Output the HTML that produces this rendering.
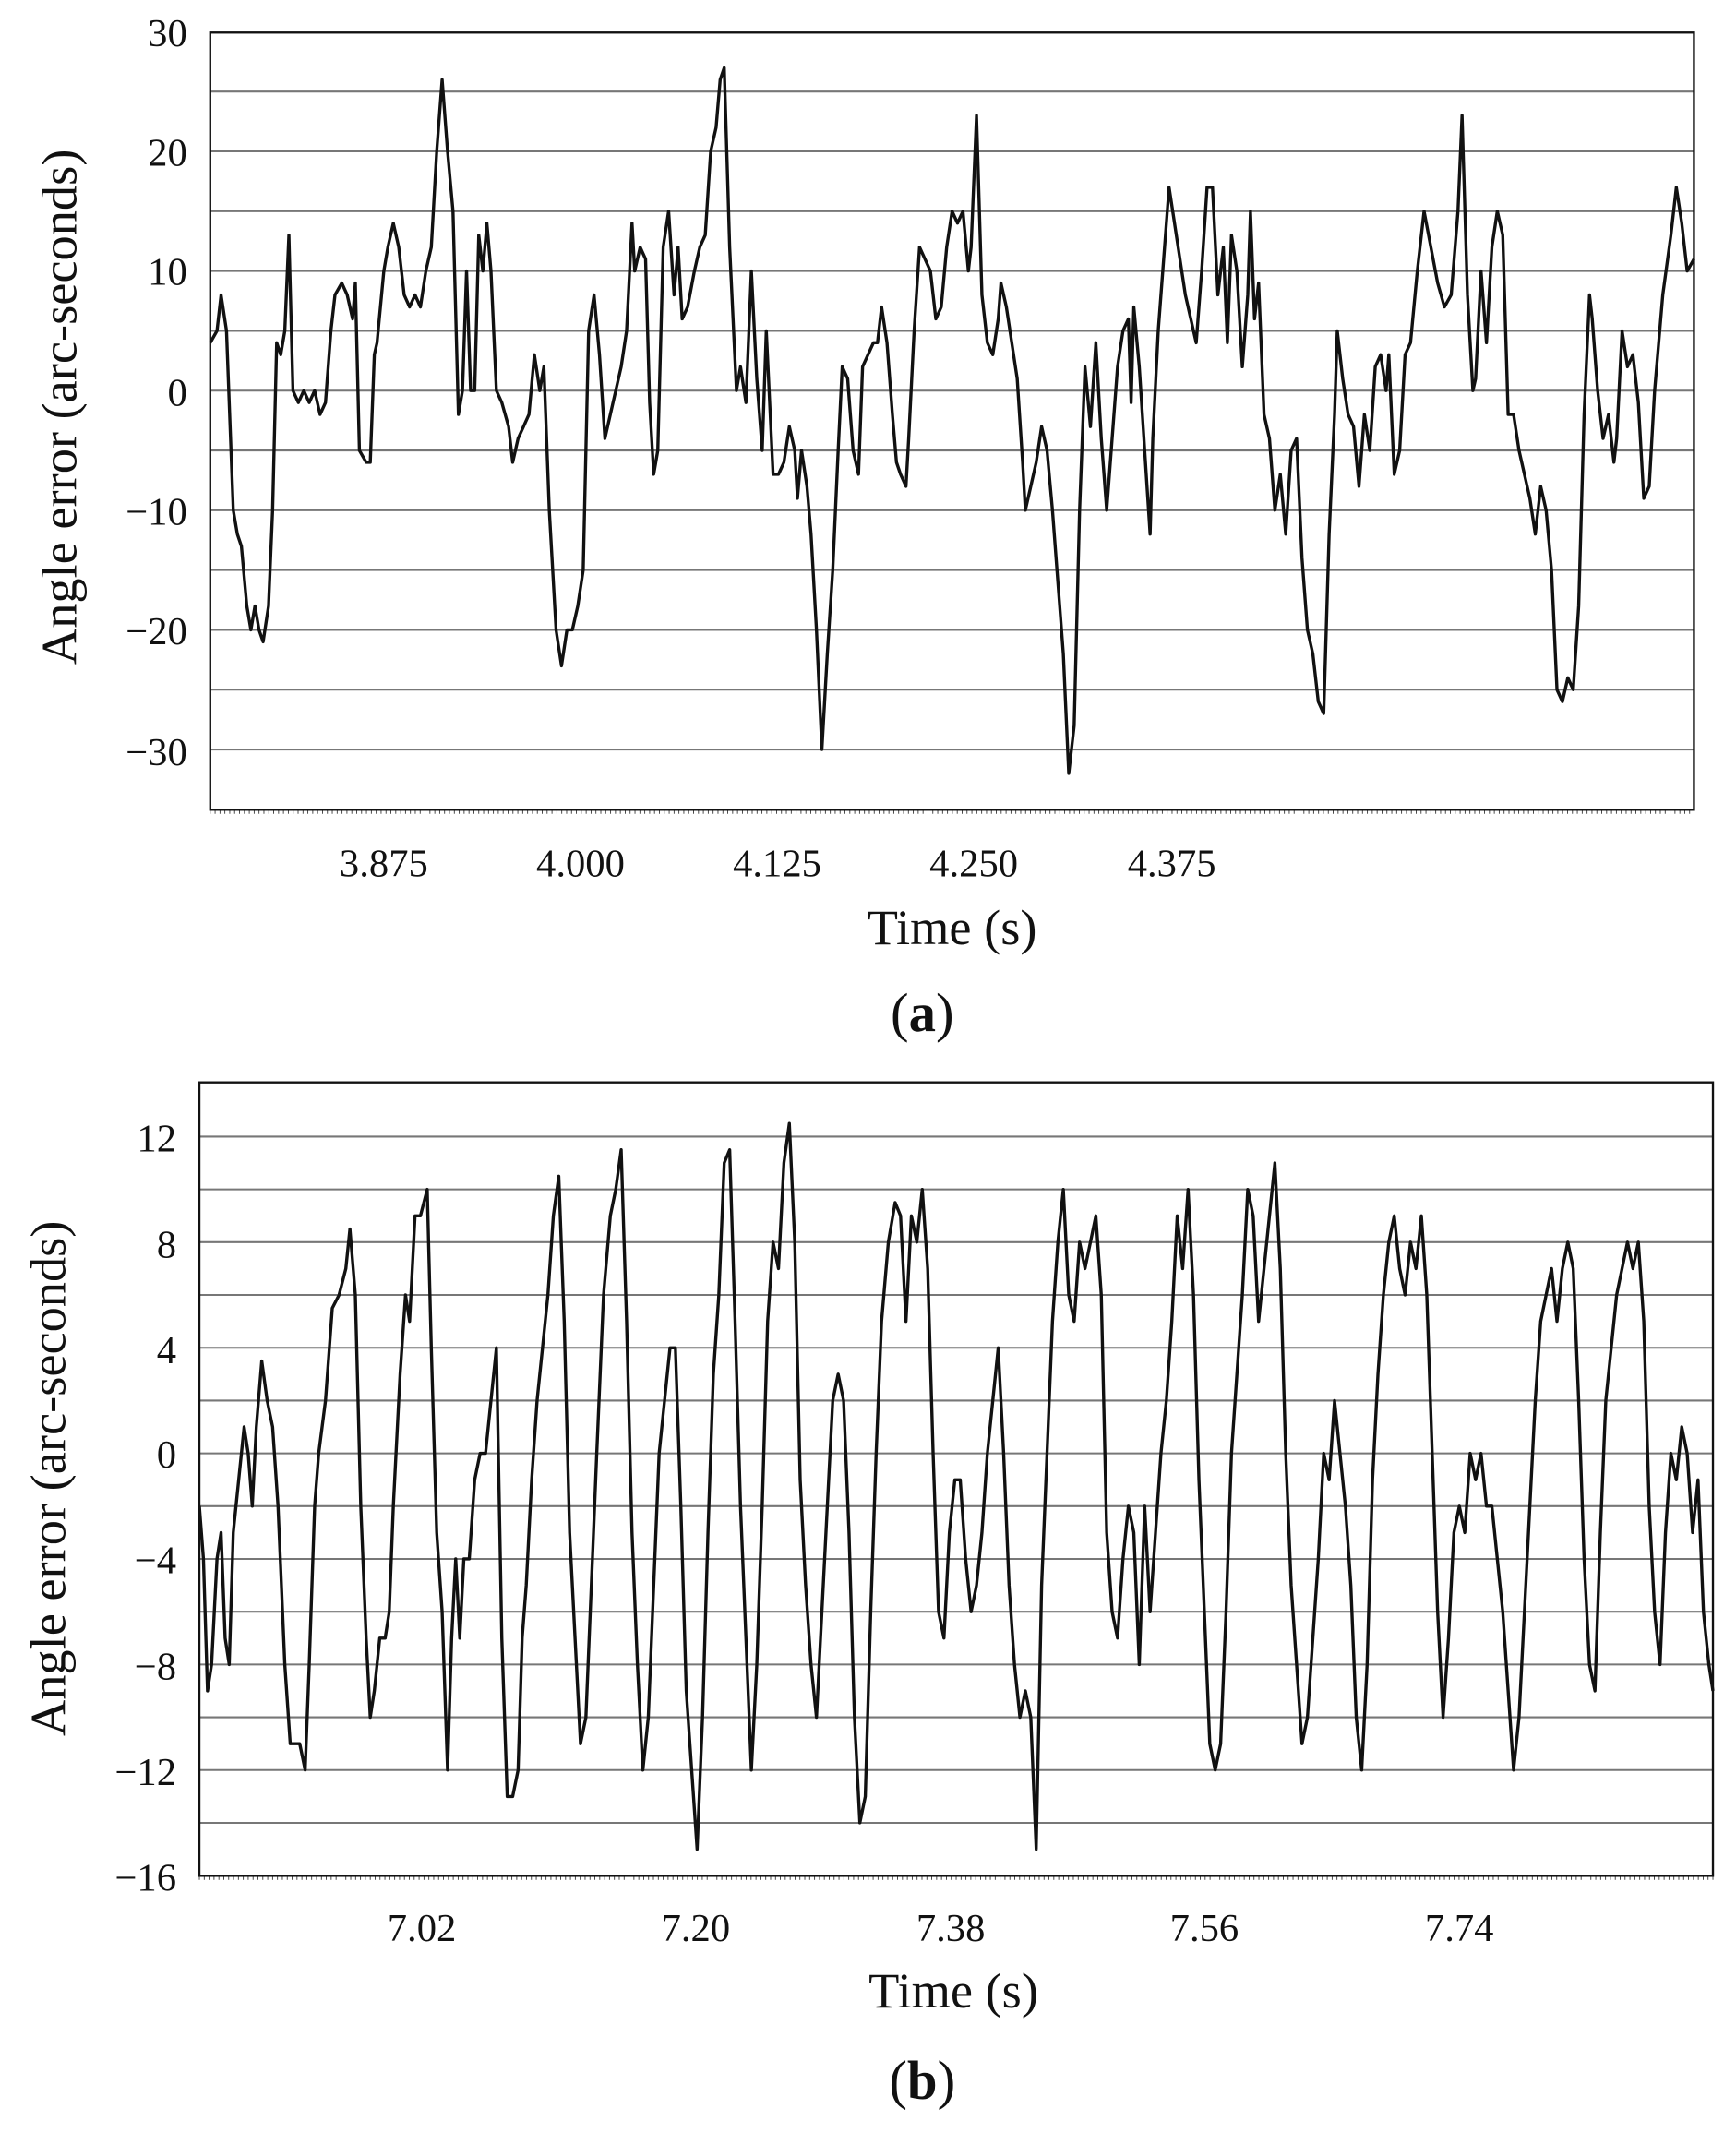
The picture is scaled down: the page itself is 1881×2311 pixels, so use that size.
<!DOCTYPE html>
<html><head><meta charset="utf-8"><style>
html,body{margin:0;padding:0;background:#fff;}
svg{display:block;}
text{font-family:"Liberation Serif",serif;fill:#111;}
</style></head><body>
<svg id="s" xmlns="http://www.w3.org/2000/svg" width="1881" height="2311" viewBox="0 0 1280 1572.6" preserveAspectRatio="none">
<rect width="1280" height="1572.6" fill="#fff"/>
<g id="ga"></g>
<g id="gb"></g>
<rect x="155" y="24" width="1094" height="573" fill="none" stroke="#111" stroke-width="1.6"/>
<g font-size="29" text-anchor="end">
<text x="138" y="34">30</text><text x="138" y="122">20</text><text x="138" y="210">10</text>
<text x="138" y="299">0</text><text x="138" y="387">−10</text><text x="138" y="475">−20</text><text x="138" y="564">−30</text>
</g>
<text transform="translate(56,300) rotate(-90)" font-size="37" text-anchor="middle">Angle error (arc-seconds)</text>
<g font-size="29" text-anchor="middle">
<text x="283" y="646">3.875</text><text x="428" y="646">4.000</text><text x="573" y="646">4.125</text>
<text x="718" y="646">4.250</text><text x="864" y="646">4.375</text>
</g>
<text x="702" y="696" font-size="37" text-anchor="middle">Time (s)</text>
<text x="680" y="760" font-size="40" text-anchor="middle">(<tspan font-weight="bold">a</tspan>)</text>
<rect x="147" y="798" width="1116" height="585" fill="none" stroke="#111" stroke-width="1.6"/>
<g font-size="29" text-anchor="end">
<text x="130" y="849">12</text><text x="130" y="927">8</text><text x="130" y="1005">4</text>
<text x="130" y="1082">0</text><text x="130" y="1160">−4</text><text x="130" y="1238">−8</text>
<text x="130" y="1316">−12</text><text x="130" y="1394">−16</text>
</g>
<text transform="translate(48,1090) rotate(-90)" font-size="37" text-anchor="middle">Angle error (arc-seconds)</text>
<g font-size="29" text-anchor="middle">
<text x="311" y="1431">7.02</text><text x="513" y="1431">7.20</text><text x="701" y="1431">7.38</text>
<text x="888" y="1431">7.56</text><text x="1076" y="1431">7.74</text>
</g>
<text x="703" y="1480" font-size="37" text-anchor="middle">Time (s)</text>
<text x="680" y="1547" font-size="40" text-anchor="middle">(<tspan font-weight="bold">b</tspan>)</text>
</svg>
<script>
var NS="http://www.w3.org/2000/svg";
function el(p,t,a){var e=document.createElementNS(NS,t);for(var k in a)e.setAttribute(k,a[k]);p.appendChild(e);return e;}
var ga=document.getElementById('ga'),gb=document.getElementById('gb');
for(var v=25;v>=-30;v-=5){var y=288-v*8.82;el(ga,'line',{x1:155,x2:1249,y1:y,y2:y,stroke:'#777','stroke-width':1.4});}
for(var v=12;v>=-14;v-=2){var y=1071.5-v*19.46;el(gb,'line',{x1:147,x2:1263,y1:y,y2:y,stroke:'#777','stroke-width':1.4});}
for(var x=155;x<=1249;x+=3.6){el(ga,'line',{x1:x,x2:x,y1:597,y2:600,stroke:'#333','stroke-width':0.6});}
for(var x=147;x<=1263;x+=3.6){el(gb,'line',{x1:x,x2:x,y1:1383,y2:1386,stroke:'#333','stroke-width':0.6});}
var A=[155,4,160,5,163,8,167,5,172,-10,175,-12,178,-13,182,-18,185,-20,188,-18,191,-20,194,-21,198,-18,201,-10,204,4,207,3,210,5,213,13,216,0,220,-1,224,0,228,-1,232,0,236,-2,240,-1,244,5,247,8,252,9,256,8,260,6,262,9,265,-5,270,-6,273,-6,276,3,278,4,283,10,286,12,290,14,294,12,298,8,302,7,306,8,310,7,314,10,318,12,322,20,326,26,330,20,334,15,338,-2,341,0,344,10,347,0,350,0,353,13,356,10,359,14,362,10,366,0,370,-1,375,-3,378,-6,382,-4,386,-3,390,-2,394,3,398,0,401,2,405,-10,410,-20,414,-23,418,-20,422,-20,426,-18,430,-15,434,5,438,8,442,3,446,-4,450,-2,454,0,458,2,462,5,466,14,468,10,472,12,476,11,479,-1,482,-7,485,-5,489,12,493,15,497,8,500,12,503,6,507,7,512,10,516,12,520,13,524,20,528,22,531,26,534,27,538,12,543,0,546,2,550,-1,554,10,558,1,562,-5,565,5,570,-7,574,-7,578,-6,582,-3,586,-5,588,-9,591,-5,595,-8,598,-12,602,-20,606,-30,610,-22,614,-15,618,-5,621,2,625,1,629,-5,633,-7,636,2,640,3,644,4,647,4,650,7,654,4,658,-2,661,-6,664,-7,668,-8,670,-4,674,5,678,12,682,11,686,10,690,6,694,7,698,12,702,15,706,14,710,15,714,10,716,12,720,23,724,8,728,4,732,3,736,6,738,9,742,7,746,4,750,1,754,-6,756,-10,760,-8,764,-6,768,-3,772,-5,776,-10,780,-16,784,-22,788,-32,792,-28,796,-10,800,2,804,-3,808,4,812,-4,816,-10,820,-4,824,2,828,5,832,6,834,-1,836,7,840,2,844,-5,848,-12,850,-4,854,5,858,11,862,17,866,14,870,11,874,8,878,6,882,4,886,10,890,17,894,17,898,8,902,12,905,4,908,13,912,10,916,2,920,8,922,15,925,6,928,9,932,-2,936,-4,940,-10,944,-7,948,-12,952,-5,956,-4,960,-14,964,-20,968,-22,972,-26,976,-27,980,-12,984,-2,986,5,990,1,994,-2,998,-3,1002,-8,1006,-2,1010,-5,1014,2,1018,3,1022,0,1024,3,1028,-7,1032,-5,1036,3,1040,4,1045,10,1050,15,1055,12,1060,9,1065,7,1070,8,1075,15,1078,23,1082,8,1086,0,1088,1,1092,10,1096,4,1100,12,1104,15,1108,13,1112,-2,1116,-2,1120,-5,1124,-7,1128,-9,1132,-12,1136,-8,1140,-10,1144,-15,1148,-25,1152,-26,1156,-24,1160,-25,1164,-18,1168,-2,1172,8,1174,6,1178,0,1182,-4,1186,-2,1190,-6,1192,-4,1196,5,1200,2,1204,3,1208,-1,1212,-9,1216,-8,1220,0,1226,8,1232,13,1236,17,1240,14,1244,10,1249,11];
var B=[147,-2,150,-4,153,-9,156,-8,160,-4,163,-3,166,-7,169,-8,172,-3,176,-1,180,1,183,0,186,-2,189,1,193,3.5,197,2,201,1,205,-2,210,-8,214,-11,218,-11,221,-11,225,-12,228,-8,232,-2,235,0,240,2,245,5.5,250,6,255,7,258,8.5,262,6,266,-2,270,-7,273,-10,276,-9,280,-7,284,-7,287,-6,290,-2,295,3,299,6,302,5,306,9,310,9,315,10,318,4,322,-3,326,-6,330,-12,333,-7,336,-4,339,-7,342,-4,346,-4,350,-1,354,0,358,0,362,2,366,4,370,-7,374,-13,378,-13,382,-12,385,-7,388,-5,392,-1,396,2,400,4,404,6,408,9,412,10.5,416,5,420,-3,424,-7,428,-11,432,-10,436,-5,440,0,445,6,450,9,454,10,458,11.5,462,5,466,-3,470,-8,474,-12,478,-10,482,-5,486,0,490,2,494,4,498,4,502,-2,506,-9,510,-12,514,-15,518,-10,522,-3,526,3,530,6,534,11,538,11.5,542,5,546,-2,550,-7,554,-12,558,-8,562,-2,566,5,570,8,574,7,578,11,582,12.5,586,8,590,-1,594,-5,598,-8,602,-10,606,-6,610,-2,614,2,618,3,622,2,626,-3,630,-10,634,-14,638,-13,642,-6,646,0,650,5,655,8,660,9.5,664,9,668,5,672,9,676,8,680,10,684,7,688,0,692,-6,696,-7,700,-3,704,-1,708,-1,712,-4,716,-6,720,-5,724,-3,728,0,732,2,736,4,740,0,744,-5,748,-8,752,-10,756,-9,760,-10,764,-15,768,-5,772,0,776,5,780,8,784,10,788,6,792,5,796,8,800,7,804,8,808,9,812,6,816,-3,820,-6,824,-7,828,-4,832,-2,836,-3,840,-8,844,-2,848,-6,852,-3,856,0,860,2,864,5,868,9,872,7,876,10,880,6,884,-1,888,-6,892,-11,896,-12,900,-11,904,-6,908,0,912,3,916,6,920,10,924,9,928,5,932,7,936,9,940,11,944,7,948,0,952,-5,956,-8,960,-11,964,-10,968,-7,972,-4,976,0,980,-1,984,2,988,0,992,-2,996,-5,1000,-10,1004,-12,1008,-8,1012,-1,1016,3,1020,6,1024,8,1028,9,1032,7,1036,6,1040,8,1044,7,1048,9,1052,6,1056,0,1060,-6,1064,-10,1068,-7,1072,-3,1076,-2,1080,-3,1084,0,1088,-1,1092,0,1096,-2,1100,-2,1104,-4,1108,-6,1112,-9,1116,-12,1120,-10,1124,-6,1128,-2,1132,2,1136,5,1140,6,1144,7,1148,5,1152,7,1156,8,1160,7,1164,2,1168,-4,1172,-8,1176,-9,1180,-3,1184,2,1188,4,1192,6,1196,7,1200,8,1204,7,1208,8,1212,5,1216,-2,1220,-6,1224,-8,1228,-3,1232,0,1236,-1,1240,1,1244,0,1248,-3,1252,-1,1256,-6,1260,-8,1263,-9];
function pts(arr,y0,s){var o=[];for(var i=0;i<arr.length;i+=2){o.push(arr[i]+','+(y0-arr[i+1]*s).toFixed(1));}return o.join(' ');}
el(ga,'polyline',{points:pts(A,288,8.82),fill:'none',stroke:'#111','stroke-width':2.3,'stroke-linejoin':'round'});
el(gb,'polyline',{points:pts(B,1071.5,19.46),fill:'none',stroke:'#111','stroke-width':2.3,'stroke-linejoin':'round'});
</script>
</body></html>
